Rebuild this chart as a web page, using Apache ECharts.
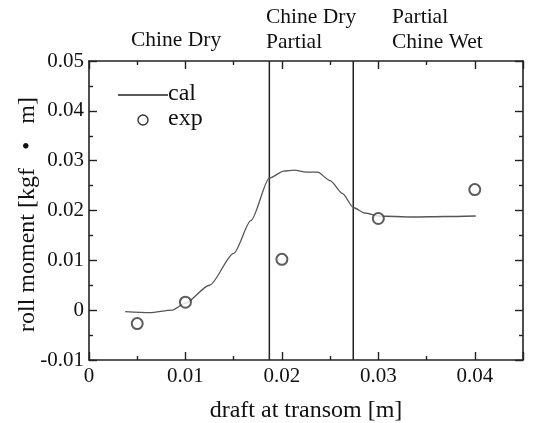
<!DOCTYPE html>
<html>
<head>
<meta charset="utf-8">
<script src="https://cdn.jsdelivr.net/npm/echarts@6/dist/echarts.min.js"></script>
<style>
html,body{margin:0;padding:0;background:#fff;}
#chart{width:550px;height:423px;}
</style>
</head>
<body>
<div id="chart"></div>
<script>
// ---- data ----
const calX = [0.00375, 0.0063, 0.0086, 0.0099, 0.0125, 0.0150, 0.0168, 0.0187, 0.0202, 0.0213, 0.0225, 0.0237, 0.0250, 0.0263, 0.0274, 0.0286, 0.0300, 0.0336, 0.0369, 0.0401];
const calY = [-0.0003, -0.0005, 0.0000, 0.0013, 0.0050, 0.0114, 0.0180, 0.0265, 0.0279, 0.0281, 0.0277, 0.0277, 0.0260, 0.0234, 0.0206, 0.0195, 0.0189, 0.0187, 0.0188, 0.0189];
const expX = [0.005, 0.01, 0.02, 0.03, 0.04];
const expY = [-0.0027, 0.0016, 0.0102, 0.0184, 0.0242];
const boundaries = [0.0187, 0.0274];
const xTickLabels = ['0', '0.01', '0.02', '0.03', '0.04'];
const yTickLabels = ['-0.01', '0', '0.01', '0.02', '0.03', '0.04', '0.05'];
const regionLabels = ['Chine Dry', 'Chine Dry\nPartial', 'Partial\nChine Wet'];
const seriesNames = ['cal', 'exp'];
const xTitle = 'draft at transom [m]';
const yTitle = 'roll moment [kgf   •   m]';

const FONT = 'Liberation Serif';
const INK = '#111';
const Y_MIN = -0.01, Y_MAX = 0.05;

function fmt(list) {
  return function (v) {
    const s = String(+v.toFixed(6));
    return list.indexOf(s) >= 0 ? s : '';
  };
}

const axisLine = { show: true, onZero: false, lineStyle: { color: '#222', width: 1.6 } };
const tick = { show: true, inside: true, length: 8, lineStyle: { color: '#222', width: 1.4 } };
const minor = { show: true, splitNumber: 2, length: 4, lineStyle: { color: '#222', width: 1.4 } };

const boundarySeries = boundaries.map((b, i) => ({
  name: 'boundary' + i, type: 'line', xAxisIndex: 0, yAxisIndex: 0,
  data: [[b, Y_MIN], [b, Y_MAX]],
  symbol: 'none', silent: true,
  lineStyle: { color: '#222', width: 1.5 },
  z: 2
}));

const chart = echarts.init(document.getElementById('chart'), null, { renderer: 'canvas' });
chart.setOption({
  animation: false,
  backgroundColor: '#fff',
  grid: { left: 89, right: 27, top: 61, bottom: 63, containLabel: false, outerBoundsMode: 'none' },
  xAxis: [
    {
      type: 'value', min: 0, max: 0.045, interval: 0.01, position: 'bottom',
      axisLine: axisLine, axisTick: tick, minorTick: minor, splitLine: { show: false },
      axisLabel: { formatter: fmt(xTickLabels), fontFamily: FONT, fontSize: 21, color: INK, margin: 6 },
      name: xTitle, nameLocation: 'middle', nameGap: 39, nameMoveOverlap: false,
      nameTextStyle: { fontFamily: FONT, fontSize: 24, color: INK }
    },
    {
      type: 'value', min: 0, max: 0.045, interval: 0.01, position: 'top',
      axisLine: axisLine, axisTick: tick, minorTick: minor, splitLine: { show: false },
      axisLabel: { show: false }
    }
  ],
  yAxis: [
    {
      type: 'value', min: Y_MIN, max: Y_MAX, interval: 0.01, position: 'left',
      axisLine: axisLine, axisTick: tick, minorTick: minor, splitLine: { show: false },
      axisLabel: { formatter: fmt(yTickLabels), fontFamily: FONT, fontSize: 21, color: INK, margin: 5 },
      name: yTitle, nameLocation: 'middle', nameGap: 49, nameRotate: 90, nameMoveOverlap: false,
      nameTextStyle: { fontFamily: FONT, fontSize: 24, color: INK, padding: [0, 8, 0, 0] }
    },
    {
      type: 'value', min: Y_MIN, max: Y_MAX, interval: 0.01, position: 'right',
      axisLine: axisLine, axisTick: tick, minorTick: minor, splitLine: { show: false },
      axisLabel: { show: false }
    }
  ],
  series: boundarySeries.concat([
    {
      name: seriesNames[0], type: 'line', xAxisIndex: 0, yAxisIndex: 0,
      data: calX.map((x, i) => [x, calY[i]]),
      symbol: 'none', smooth: 0.25, smoothMonotone: 'x',
      lineStyle: { color: '#555', width: 1.3 },
      z: 3
    },
    {
      name: seriesNames[1], type: 'scatter', xAxisIndex: 0, yAxisIndex: 0,
      data: expX.map((x, i) => [x, expY[i]]),
      symbol: 'emptyCircle', symbolSize: 11,
      itemStyle: { color: '#333', borderColor: '#333', borderWidth: 1.4 },
      z: 4
    }
  ]),
  graphic: [
    { type: 'text', x: 131, y: 40, style: { text: regionLabels[0], font: '21.5px "Liberation Serif"', fill: INK, verticalAlign: 'middle' } },
    { type: 'text', x: 266, y: 30, style: { text: regionLabels[1], font: '21.5px "Liberation Serif"', fill: INK, lineHeight: 25, verticalAlign: 'middle' } },
    { type: 'text', x: 392, y: 30, style: { text: regionLabels[2], font: '21.5px "Liberation Serif"', fill: INK, lineHeight: 25, verticalAlign: 'middle' } },
    { type: 'line', shape: { x1: 118, y1: 95, x2: 168, y2: 95 }, style: { stroke: '#222', lineWidth: 1.5 } },
    { type: 'text', x: 168, y: 94, style: { text: seriesNames[0], font: '24px "Liberation Serif"', fill: INK, verticalAlign: 'middle' } },
    { type: 'circle', shape: { cx: 143, cy: 120, r: 5 }, style: { stroke: '#333', lineWidth: 1.4, fill: '#fff' } },
    { type: 'text', x: 168, y: 119, style: { text: seriesNames[1], font: '24px "Liberation Serif"', fill: INK, verticalAlign: 'middle' } }
  ]
});
</script>
</body>
</html>
